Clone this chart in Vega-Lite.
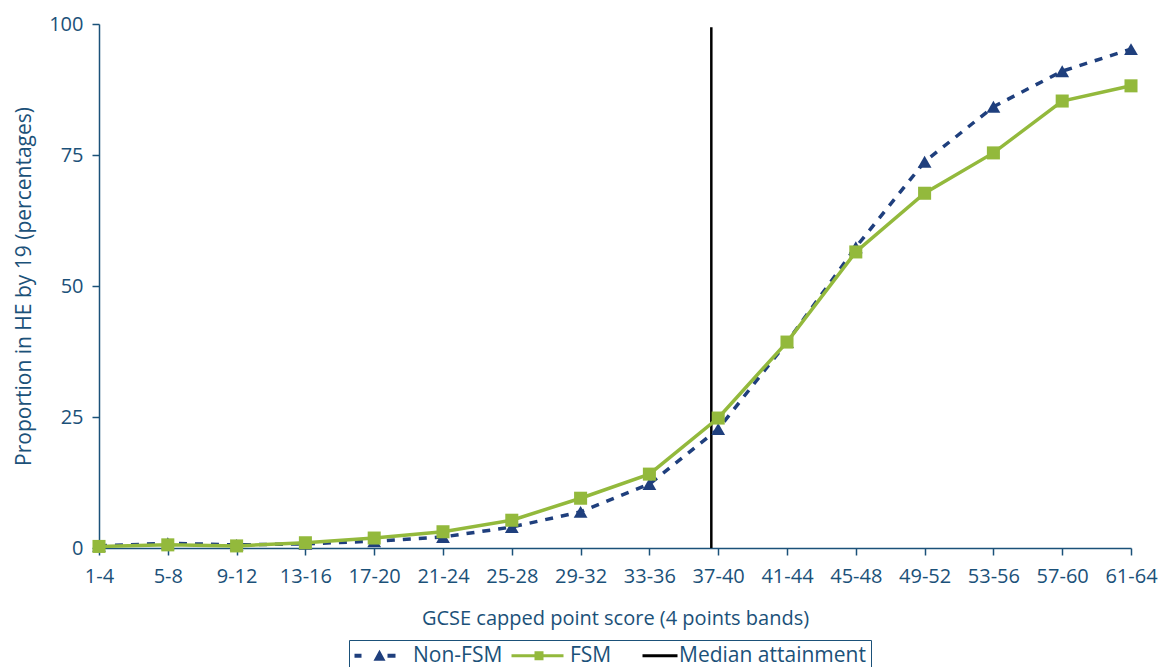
{
  "$schema": "https://vega.github.io/schema/vega-lite/v6.json",
  "width": 1032,
  "height": 524,
  "autosize": {"type": "none"},
  "padding": {"left": 99, "top": 24, "right": 32, "bottom": 119},
  "background": "white",
  "config": {
    "font": "Open Sans",
    "view": {"stroke": null},
    "axis": {
      "domainColor": "#1b5179",
      "domainWidth": 1.5,
      "tickColor": "#1b5179",
      "tickWidth": 1.5,
      "tickSize": 7,
      "labelColor": "#1b5179",
      "labelFontSize": 20,
      "labelFont": "Open Sans",
      "titleColor": "#1b5179",
      "titleFont": "Open Sans",
      "titleFontSize": 20,
      "titleFontWeight": "normal",
      "grid": false
    }
  },
  "datasets": {
    "series": [
      {"band": "1-4", "idx": 0, "series": "Non-FSM", "value": 0.4},
      {"band": "5-8", "idx": 1, "series": "Non-FSM", "value": 0.9},
      {"band": "9-12", "idx": 2, "series": "Non-FSM", "value": 0.6},
      {"band": "13-16", "idx": 3, "series": "Non-FSM", "value": 0.8},
      {"band": "17-20", "idx": 4, "series": "Non-FSM", "value": 1.3},
      {"band": "21-24", "idx": 5, "series": "Non-FSM", "value": 2.1},
      {"band": "25-28", "idx": 6, "series": "Non-FSM", "value": 4.0},
      {"band": "29-32", "idx": 7, "series": "Non-FSM", "value": 6.9},
      {"band": "33-36", "idx": 8, "series": "Non-FSM", "value": 12.2},
      {"band": "37-40", "idx": 9, "series": "Non-FSM", "value": 22.7},
      {"band": "41-44", "idx": 10, "series": "Non-FSM", "value": 39.3},
      {"band": "45-48", "idx": 11, "series": "Non-FSM", "value": 57.4},
      {"band": "49-52", "idx": 12, "series": "Non-FSM", "value": 73.7},
      {"band": "53-56", "idx": 13, "series": "Non-FSM", "value": 84.2},
      {"band": "57-60", "idx": 14, "series": "Non-FSM", "value": 91.0},
      {"band": "61-64", "idx": 15, "series": "Non-FSM", "value": 95.2},
      {"band": "1-4", "idx": 0, "series": "FSM", "value": 0.3},
      {"band": "5-8", "idx": 1, "series": "FSM", "value": 0.6},
      {"band": "9-12", "idx": 2, "series": "FSM", "value": 0.4},
      {"band": "13-16", "idx": 3, "series": "FSM", "value": 1.0},
      {"band": "17-20", "idx": 4, "series": "FSM", "value": 1.9},
      {"band": "21-24", "idx": 5, "series": "FSM", "value": 3.1},
      {"band": "25-28", "idx": 6, "series": "FSM", "value": 5.3},
      {"band": "29-32", "idx": 7, "series": "FSM", "value": 9.5},
      {"band": "33-36", "idx": 8, "series": "FSM", "value": 14.1},
      {"band": "37-40", "idx": 9, "series": "FSM", "value": 24.8},
      {"band": "41-44", "idx": 10, "series": "FSM", "value": 39.3},
      {"band": "45-48", "idx": 11, "series": "FSM", "value": 56.5},
      {"band": "49-52", "idx": 12, "series": "FSM", "value": 67.7},
      {"band": "53-56", "idx": 13, "series": "FSM", "value": 75.4},
      {"band": "57-60", "idx": 14, "series": "FSM", "value": 85.3},
      {"band": "61-64", "idx": 15, "series": "FSM", "value": 88.2}
    ],
    "median": [
      {"series": "Median attainment", "idx": 8.9, "low": 0, "high": 99.4}
    ],
    "legend": [
      {"series": "Non-FSM"},
      {"series": "FSM"},
      {"series": "Median attainment"}
    ]
  },
  "layer": [
    {
      "data": {"name": "median"},
      "mark": {"type": "rule", "color": "#000000", "strokeWidth": 2.5},
      "encoding": {
        "x": {"field": "idx", "type": "quantitative", "scale": {"domain": [0, 15], "nice": false, "zero": false}},
        "y": {"field": "low", "type": "quantitative"},
        "y2": {"field": "high"}
      }
    },
    {
      "data": {"name": "series"},
      "transform": [{"filter": "datum.series === 'Non-FSM'"}],
      "mark": {"type": "line", "color": "#1f3f7d", "strokeWidth": 3.5, "strokeDash": [8, 8]},
      "encoding": {
        "x": {
          "field": "idx",
          "type": "quantitative",
          "scale": {"domain": [0, 15], "nice": false, "zero": false},
          "axis": {
            "title": "GCSE capped point score (4 points bands)",
            "values": [0, 1, 2, 3, 4, 5, 6, 7, 8, 9, 10, 11, 12, 13, 14, 15],
            "labelExpr": "['1-4','5-8','9-12','13-16','17-20','21-24','25-28','29-32','33-36','37-40','41-44','45-48','49-52','53-56','57-60','61-64'][datum.value]",
            "labelPadding": 11,
            "titlePadding": 22,
            "labelFlush": false,
            "labelOverlap": false
          }
        },
        "y": {
          "field": "value",
          "type": "quantitative",
          "scale": {"domain": [0, 100], "nice": false},
          "axis": {
            "title": "Proportion in HE by 19 (percentages)",
            "titleFontSize": 21,
            "values": [0, 25, 50, 75, 100],
            "labelPadding": 9,
            "titlePadding": 14
          }
        }
      }
    },
    {
      "data": {"name": "series"},
      "transform": [{"filter": "datum.series === 'Non-FSM'"}],
      "mark": {"type": "point", "filled": true, "shape": "triangle-up", "size": 190, "color": "#1f3f7d", "opacity": 1},
      "encoding": {
        "x": {"field": "idx", "type": "quantitative"},
        "y": {"field": "value", "type": "quantitative"}
      }
    },
    {
      "data": {"name": "series"},
      "transform": [{"filter": "datum.series === 'FSM'"}],
      "mark": {"type": "line", "color": "#93b93c", "strokeWidth": 3.5},
      "encoding": {
        "x": {"field": "idx", "type": "quantitative"},
        "y": {"field": "value", "type": "quantitative"}
      }
    },
    {
      "data": {"name": "series"},
      "transform": [{"filter": "datum.series === 'FSM'"}],
      "mark": {"type": "point", "filled": true, "shape": "square", "size": 170, "color": "#93b93c", "opacity": 1},
      "encoding": {
        "x": {"field": "idx", "type": "quantitative"},
        "y": {"field": "value", "type": "quantitative"}
      }
    },
    {
      "data": {"name": "legend"},
      "mark": {"type": "point", "filled": true, "opacity": 0},
      "encoding": {
        "color": {
          "field": "series",
          "type": "nominal",
          "scale": {"domain": ["Non-FSM", "FSM", "Median attainment"], "range": ["#1f3f7d", "#93b93c", "#000000"]},
          "legend": {
            "title": null,
            "orient": "none",
            "legendX": 250,
            "legendY": 616,
            "direction": "horizontal",
            "strokeColor": "#1b5179",
            "fillColor": "white",
            "padding": 5,
            "symbolSize": 400,
            "symbolOpacity": 1,
            "symbolStrokeWidth": 0,
            "labelFontSize": 21,
            "labelColor": "#1b5179",
            "labelFont": "Open Sans",
            "labelOffset": 38,
            "labelLimit": 400,
            "columnPadding": 8
          }
        },
        "shape": {
          "field": "series",
          "type": "nominal",
          "scale": {
            "domain": ["Non-FSM", "FSM", "Median attainment"],
            "range": [
              "M-1,-0.2H-0.3V0.2H-1Z M0.9,0.5L1.5,-0.6L2.1,0.5Z M2.3,-0.2H3.1V0.2H2.3Z",
              "M-1,-0.15H4.2V0.15H-1Z M1.3,-0.45H2.2V0.45H1.3Z",
              "M-1,0 M1.2,-0.14H4.7V0.14H1.2Z"
            ]
          },
          "legend": {
            "title": null,
            "orient": "none",
            "legendX": 250,
            "legendY": 616,
            "direction": "horizontal",
            "strokeColor": "#1b5179",
            "fillColor": "white",
            "padding": 5,
            "symbolSize": 400,
            "symbolOpacity": 1,
            "symbolStrokeWidth": 0,
            "labelFontSize": 21,
            "labelColor": "#1b5179",
            "labelFont": "Open Sans",
            "labelOffset": 38,
            "labelLimit": 400,
            "columnPadding": 8
          }
        }
      }
    }
  ]
}
